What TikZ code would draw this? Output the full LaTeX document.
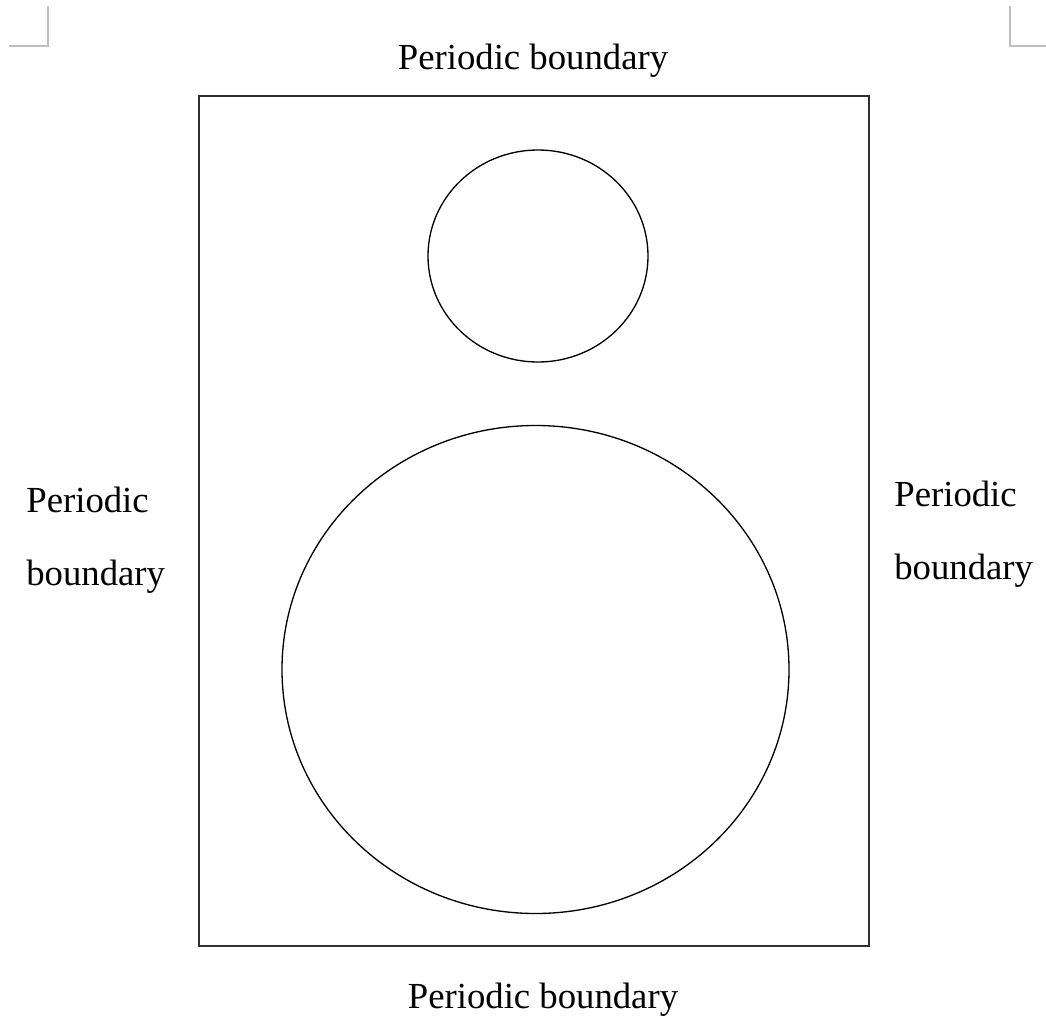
\documentclass[tikz,border=0pt]{standalone}
\usepackage{fontspec}
\setmainfont{Liberation Serif}
\usetikzlibrary{positioning}
\definecolor{markgray}{HTML}{BFBFBF}
\definecolor{edgegray}{HTML}{303030}

\begin{document}
\begin{tikzpicture}[x=0.02cm,y=-0.02cm,
 lbl/.style={inner sep=0pt,font=\fontsize{20.9}{41}\selectfont},
 side/.style={lbl,align=left,anchor=base west},
 cropmark/.style={draw=markgray,line width=1.2pt},
 cell/.style={draw=edgegray,line width=1.3pt},
 hole/.style={draw=black,line width=0.75pt}]
\useasboundingbox (0,0) rectangle (1046,1021);
% crop marks
\draw[cropmark] (48,6) -- (48,46) -- (9,46);
\draw[cropmark] (1010,6) -- (1010,46) -- (1046,46);
% unit cell and inclusions
\draw[cell] (199,96) rectangle (869,946);
\draw[hole] (538,256) ellipse [x radius=110,y radius=106];
\draw[hole] (535.5,669.5) ellipse [x radius=253.5,y radius=244];
% boundary labels
\node[lbl,anchor=base] (top) at (533,70) {Periodic boundary};
\node[lbl,anchor=base] (bottom) at (543,1008) {Periodic boundary};
\node[side] (left) at (26,585) {Periodic\\boundary};
\node[side] (right) at (894,579) {Periodic\\boundary};
\end{tikzpicture}
\end{document}
